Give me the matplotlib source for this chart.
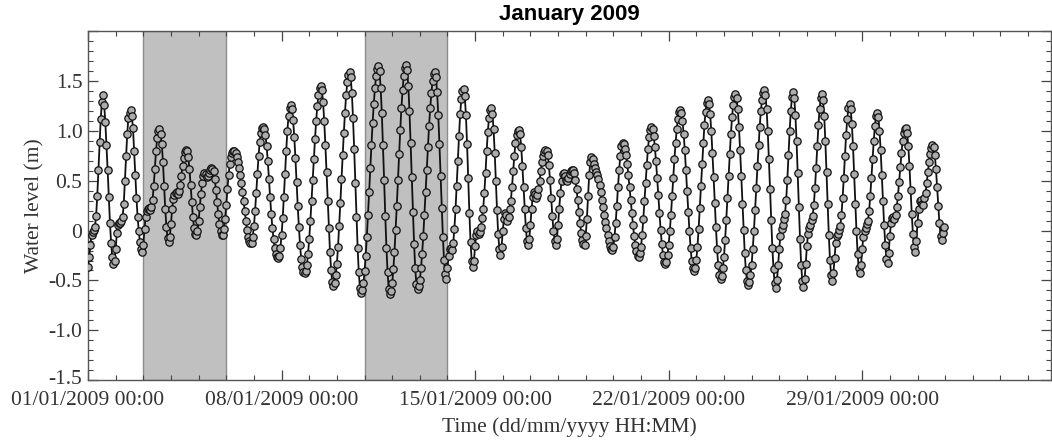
import numpy as np
import pandas as pd
import matplotlib
matplotlib.use('Agg')
import matplotlib.pyplot as plt
import matplotlib.dates as mdates
import matplotlib.transforms as mtransforms
from matplotlib.ticker import FixedLocator, FixedFormatter, MultipleLocator

# hourly water level (m), one row per day, 01/01/2009 00:00 -> 31/01/2009 23:00
water_level = [
    -0.37, -0.26, -0.14, -0.04, -0.01, 0.01, 0.04, 0.15, 0.35, 0.61, 0.89, 1.12, 1.29, 1.36, 1.26, 1.09, 0.86, 0.61, 0.34, 0.08, -0.12, -0.26, -0.33, -0.30,
    -0.18, -0.02, 0.06, 0.08, 0.08, 0.10, 0.14, 0.27, 0.50, 0.75, 0.97, 1.13, 1.18, 1.21, 1.15, 1.03, 0.80, 0.56, 0.33, 0.14, 0.00, -0.11, -0.18, -0.21,
    -0.14, 0.02, 0.14, 0.20, 0.22, 0.23, 0.21, 0.24, 0.31, 0.45, 0.62, 0.80, 0.93, 1.00, 1.02, 0.97, 0.87, 0.69, 0.45, 0.22, 0.04, -0.07, -0.11, -0.06,
    0.07, 0.22, 0.32, 0.36, 0.38, 0.39, 0.37, 0.40, 0.46, 0.55, 0.65, 0.73, 0.79, 0.81, 0.80, 0.74, 0.62, 0.46, 0.29, 0.14, 0.03, -0.03, -0.04, 0.00,
    0.10, 0.24, 0.37, 0.48, 0.55, 0.58, 0.57, 0.54, 0.55, 0.58, 0.61, 0.63, 0.62, 0.60, 0.52, 0.41, 0.29, 0.17, 0.07, 0.00, -0.04, -0.04, 0.02, 0.12,
    0.26, 0.42, 0.56, 0.67, 0.74, 0.78, 0.80, 0.80, 0.78, 0.74, 0.69, 0.63, 0.56, 0.48, 0.39, 0.30, 0.20, 0.10, 0.01, -0.06, -0.10, -0.12, -0.12, -0.06,
    0.05, 0.20, 0.38, 0.57, 0.75, 0.89, 0.98, 1.03, 1.04, 1.02, 0.96, 0.85, 0.70, 0.52, 0.34, 0.17, 0.03, -0.08, -0.17, -0.23, -0.26, -0.27, -0.25, -0.17,
    -0.04, 0.13, 0.34, 0.57, 0.80, 1.00, 1.15, 1.23, 1.26, 1.22, 1.11, 0.94, 0.73, 0.49, 0.25, 0.04, -0.14, -0.28, -0.37, -0.42, -0.43, -0.41, -0.34, -0.23,
    -0.08, 0.10, 0.30, 0.51, 0.72, 0.92, 1.10, 1.25, 1.36, 1.43, 1.45, 1.41, 1.29, 1.10, 0.86, 0.59, 0.30, 0.03, -0.21, -0.40, -0.52, -0.56, -0.53, -0.45,
    -0.33, -0.16, 0.05, 0.28, 0.52, 0.76, 0.98, 1.18, 1.36, 1.49, 1.56, 1.59, 1.54, 1.38, 1.13, 0.82, 0.48, 0.14, -0.17, -0.42, -0.58, -0.63, -0.60, -0.53,
    -0.41, -0.25, -0.06, 0.16, 0.39, 0.63, 0.86, 1.08, 1.27, 1.43, 1.55, 1.62, 1.65, 1.60, 1.43, 1.18, 0.86, 0.51, 0.15, -0.17, -0.42, -0.59, -0.64, -0.61,
    -0.53, -0.39, -0.21, 0.01, 0.25, 0.51, 0.77, 1.01, 1.23, 1.41, 1.55, 1.63, 1.66, 1.61, 1.45, 1.20, 0.88, 0.54, 0.19, -0.13, -0.38, -0.54, -0.59, -0.56,
    -0.50, -0.38, -0.23, -0.05, 0.16, 0.39, 0.61, 0.84, 1.05, 1.23, 1.38, 1.50, 1.57, 1.59, 1.54, 1.39, 1.16, 0.87, 0.55, 0.23, -0.06, -0.29, -0.44, -0.49,
    -0.38, -0.25, -0.18, -0.17, -0.19, -0.12, 0.02, 0.22, 0.45, 0.70, 0.95, 1.17, 1.32, 1.40, 1.42, 1.35, 1.16, 0.87, 0.53, 0.18, -0.11, -0.30, -0.37, -0.30,
    -0.15, -0.04, 0.00, -0.03, -0.01, 0.04, 0.13, 0.22, 0.38, 0.58, 0.80, 0.99, 1.13, 1.21, 1.23, 1.17, 1.02, 0.78, 0.50, 0.21, -0.03, -0.18, -0.24, -0.16,
    0.00, 0.12, 0.18, 0.16, 0.10, 0.14, 0.22, 0.30, 0.44, 0.60, 0.75, 0.88, 0.96, 1.00, 1.01, 0.97, 0.84, 0.65, 0.44, 0.22, 0.03, -0.10, -0.14, -0.08,
    0.06, 0.22, 0.34, 0.39, 0.37, 0.33, 0.36, 0.42, 0.50, 0.60, 0.69, 0.75, 0.79, 0.81, 0.80, 0.76, 0.66, 0.51, 0.33, 0.15, 0.00, -0.10, -0.14, -0.08,
    0.06, 0.22, 0.38, 0.50, 0.57, 0.58, 0.55, 0.51, 0.50, 0.53, 0.57, 0.60, 0.61, 0.61, 0.58, 0.51, 0.42, 0.31, 0.19, 0.08, -0.02, -0.09, -0.13, -0.14,
    -0.05, 0.12, 0.35, 0.56, 0.69, 0.74, 0.72, 0.67, 0.63, 0.59, 0.56, 0.52, 0.46, 0.39, 0.31, 0.24, 0.16, 0.09, 0.03, -0.04, -0.10, -0.15, -0.18, -0.19,
    -0.16, -0.06, 0.08, 0.25, 0.44, 0.61, 0.75, 0.85, 0.88, 0.87, 0.82, 0.76, 0.67, 0.56, 0.44, 0.31, 0.18, 0.06, -0.05, -0.14, -0.20, -0.25, -0.26, -0.22,
    -0.16, -0.04, 0.12, 0.30, 0.48, 0.66, 0.82, 0.94, 1.01, 1.04, 1.02, 0.95, 0.84, 0.70, 0.53, 0.36, 0.18, 0.01, -0.13, -0.24, -0.31, -0.33, -0.31, -0.24,
    -0.14, 0.00, 0.16, 0.35, 0.53, 0.72, 0.88, 1.02, 1.12, 1.19, 1.21, 1.18, 1.10, 0.97, 0.81, 0.61, 0.40, 0.19, 0.00, -0.17, -0.30, -0.38, -0.41, -0.38,
    -0.29, -0.16, 0.02, 0.23, 0.45, 0.67, 0.88, 1.06, 1.19, 1.28, 1.31, 1.27, 1.17, 1.00, 0.78, 0.54, 0.28, 0.04, -0.18, -0.35, -0.45, -0.49, -0.46, -0.38,
    -0.26, -0.09, 0.11, 0.33, 0.55, 0.77, 0.97, 1.14, 1.26, 1.34, 1.37, 1.33, 1.22, 1.04, 0.81, 0.55, 0.27, 0.01, -0.22, -0.40, -0.51, -0.55, -0.52, -0.45,
    -0.34, -0.18, 0.00, 0.21, 0.43, 0.65, 0.86, 1.04, 1.20, 1.31, 1.38, 1.41, 1.36, 1.22, 1.00, 0.72, 0.42, 0.11, -0.17, -0.39, -0.53, -0.58, -0.50, -0.35,
    -0.18, -0.05, 0.02, 0.06, 0.12, 0.17, 0.31, 0.51, 0.76, 1.00, 1.20, 1.34, 1.39, 1.33, 1.16, 0.90, 0.58, 0.24, -0.08, -0.34, -0.51, -0.57, -0.49, -0.33,
    -0.15, -0.03, 0.03, 0.06, 0.11, 0.15, 0.26, 0.43, 0.63, 0.85, 1.06, 1.22, 1.33, 1.37, 1.31, 1.15, 0.90, 0.59, 0.27, -0.04, -0.29, -0.45, -0.51, -0.43,
    -0.27, -0.12, -0.05, -0.03, 0.01, 0.05, 0.16, 0.33, 0.53, 0.75, 0.96, 1.12, 1.23, 1.27, 1.22, 1.07, 0.85, 0.57, 0.27, 0.00, -0.23, -0.38, -0.43, -0.34,
    -0.18, -0.06, 0.00, 0.03, 0.07, 0.10, 0.20, 0.35, 0.53, 0.72, 0.90, 1.05, 1.15, 1.18, 1.14, 1.00, 0.81, 0.56, 0.30, 0.06, -0.14, -0.28, -0.32, -0.22,
    -0.05, 0.08, 0.13, 0.14, 0.12, 0.16, 0.24, 0.35, 0.49, 0.64, 0.78, 0.90, 0.98, 1.02, 1.03, 0.98, 0.85, 0.65, 0.41, 0.17, -0.03, -0.16, -0.21, -0.10,
    0.08, 0.22, 0.30, 0.31, 0.27, 0.26, 0.33, 0.38, 0.48, 0.59, 0.69, 0.77, 0.83, 0.86, 0.84, 0.76, 0.62, 0.44, 0.25, 0.08, -0.05, -0.09, -0.02, 0.04,
]
start_time = '2009-01-01 00:00'

# shaded periods (start, end)
shaded_periods = [('2009-01-03', '2009-01-06'), ('2009-01-11', '2009-01-14')]

x_tick_dates = ['2009-01-01', '2009-01-08', '2009-01-15', '2009-01-22', '2009-01-29']
y_ticks = [-1.5, -1.0, -0.5, 0.0, 0.5, 1.0, 1.5, 2.0]
y_tick_labels = ['-1.5', '-1.0', '-0.5', '0', '0.5', '1.0', '1.5', '']

plt.rcParams['axes.unicode_minus'] = False
serif = ['Liberation Serif', 'DejaVu Serif']

times = pd.date_range(start_time, periods=len(water_level), freq='h')

fig = plt.figure(figsize=(10.52, 4.44), dpi=100)
ax = fig.add_axes([0.0837, 0.1441, 0.9154, 0.785])

for s, e in shaded_periods:
    ax.axvspan(pd.Timestamp(s), pd.Timestamp(e), facecolor='#c0c0c0', edgecolor='#8c8c8c', lw=1.0, zorder=0)

ax.plot(times, water_level, '-o', color='#111111', lw=1.3, ms=5.3,
        mfc='#acacac', mec='#111111', mew=0.9, zorder=3)

x0 = mdates.date2num(pd.Timestamp('2009-01-01'))
ax.set_xlim(x0, x0 + 34.83)
ax.set_ylim(-1.5, 2.0)

ax.xaxis.set_major_locator(FixedLocator(mdates.date2num(pd.to_datetime(x_tick_dates))))
ax.xaxis.set_major_formatter(mdates.DateFormatter('%d/%m/%Y %H:%M'))
ax.xaxis.set_minor_locator(MultipleLocator(1))
ax.yaxis.set_major_locator(FixedLocator(y_ticks))
ax.yaxis.set_major_formatter(FixedFormatter(y_tick_labels))
ax.yaxis.set_minor_locator(MultipleLocator(0.1))

ax.tick_params(which='both', direction='in', top=True, right=True, colors='#444444',
               labelcolor='#333333', labelsize=15.5)
ax.tick_params(which='major', length=7, width=0.9)
ax.tick_params(which='minor', length=3.3, width=0.8)
ax.tick_params(axis='x', pad=8)
ax.tick_params(axis='y', pad=4)
for lab in ax.get_xticklabels() + ax.get_yticklabels():
    lab.set_family(serif)

# nudge the bottom y label up a little so it clears the first date label
bottom_lab = ax.get_yticklabels()[0]
bottom_lab.set_transform(bottom_lab.get_transform() +
                         mtransforms.ScaledTranslation(0, 2 / 72, fig.dpi_scale_trans))

for sp in ax.spines.values():
    sp.set_color('#555555')
    sp.set_linewidth(1.0)

ax.set_xlabel('Time (dd/mm/yyyy HH:MM)', family=serif, fontsize=15.5, color='#333333', labelpad=5)
ax.set_ylabel('Water level (m)', family=serif, fontsize=15.5, color='#333333', labelpad=3)
ax.set_title('January 2009', family=['Liberation Sans', 'DejaVu Sans'], fontweight='bold',
             fontsize=16, pad=8)

fig.savefig('out.png', dpi=100)
